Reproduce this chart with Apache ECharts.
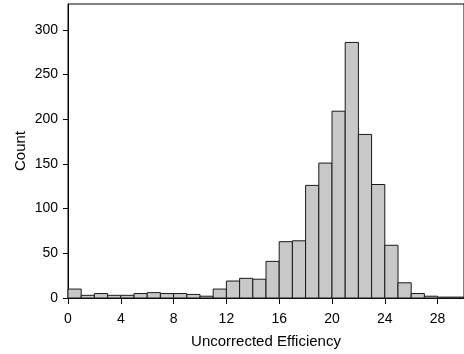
<!DOCTYPE html>
<html>
<head>
<meta charset="utf-8">
<script src="https://cdn.jsdelivr.net/npm/echarts@6/dist/echarts.min.js"></script>
<style>
  html, body { margin: 0; padding: 0; background: #fff; }
  #main { width: 464px; height: 354px; }
</style>
</head>
<body>
<div id="main"></div>
<script>
// bins of width 1, from 0 to 30
var binStarts = [0, 1, 2, 3, 4, 5, 6, 7, 8, 9, 10, 11, 12, 13, 14, 15, 16, 17, 18, 19, 20, 21, 22, 23, 24, 25, 26, 27, 28, 29];
var counts = [10, 3, 5, 3, 3, 5, 6, 5, 5, 4, 2, 10, 19, 22, 21, 41, 63, 64, 126, 151, 209, 286, 183, 127, 59, 17, 5, 2, 1, 1];
var xTicks = [0, 4, 8, 12, 16, 20, 24, 28];
var yTicks = [0, 50, 100, 150, 200, 250, 300];

var data = binStarts.map(function (s, i) { return [s, s + 1, counts[i]]; });

var chart = echarts.init(document.getElementById('main'), null, { renderer: 'canvas' });

var font = 'Liberation Sans, Arial, sans-serif';

chart.setOption({
  animation: false,
  grid: {
    left: 68, right: -7, top: 4, bottom: 53,
    show: true, borderColor: '#000', borderWidth: 1, backgroundColor: 'transparent'
  },
  xAxis: {
    type: 'value',
    min: 0, max: 30,
    name: 'Uncorrected Efficiency',
    nameLocation: 'middle',
    nameGap: 36,
    nameMoveOverlap: false,
    nameTextStyle: { fontFamily: font, fontSize: 15, color: '#000' },
    axisLine: { show: true, lineStyle: { color: '#000', width: 1 } },
    axisTick: { show: true, length: 6, lineStyle: { color: '#000' }, customValues: xTicks },
    axisLabel: { fontFamily: font, fontSize: 14, color: '#000', margin: 14, customValues: xTicks },
    splitLine: { show: false }
  },
  yAxis: {
    type: 'value',
    min: 0, max: 329,
    name: 'Count',
    nameLocation: 'middle',
    nameGap: 40,
    nameMoveOverlap: false,
    nameTextStyle: { fontFamily: font, fontSize: 15, color: '#000' },
    axisLine: { show: true, lineStyle: { color: '#000', width: 1 } },
    axisTick: { show: true, length: 5, lineStyle: { color: '#000' }, customValues: yTicks },
    axisLabel: { fontFamily: font, fontSize: 14, color: '#000', margin: 10, customValues: yTicks },
    splitLine: { show: false }
  },
  series: [{
    type: 'custom',
    data: data,
    encode: { x: [0, 1], y: 2 },
    renderItem: function (params, api) {
      var p0 = api.coord([api.value(0), api.value(2)]);
      var p1 = api.coord([api.value(1), 0]);
      return {
        type: 'rect',
        shape: { x: p0[0], y: p0[1], width: p1[0] - p0[0], height: p1[1] - p0[1] },
        style: { fill: '#c8c8c8', stroke: '#1a1a1a', lineWidth: 1 }
      };
    }
  }]
});
</script>
</body>
</html>
